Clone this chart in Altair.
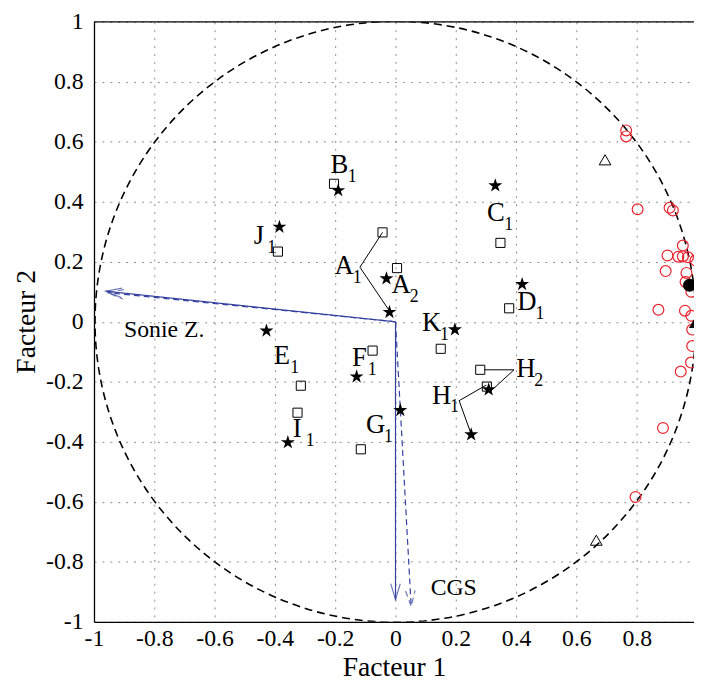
import altair as alt
import pandas as pd

# ---- data ----
ticks = [-1, -0.8, -0.6, -0.4, -0.2, 0, 0.2, 0.4, 0.6, 0.8, 1]

# filled stars
star_x = [-0.190, -0.385, -0.030, -0.020, -0.428, -0.129, 0.016, -0.357, 0.331, 0.197, 0.309, 0.251, 0.420]
star_y = [0.438, 0.316, 0.144, 0.032, -0.030, -0.183, -0.295, -0.402, 0.454, -0.026, -0.226, -0.376, 0.125]

# open squares
sq_x = [-0.204, -0.390, -0.043, 0.005, 0.348, 0.377, 0.150, 0.281, 0.303, -0.076, -0.314, -0.325, -0.115]
sq_y = [0.460, 0.234, 0.298, 0.179, 0.263, 0.045, -0.090, -0.160, -0.216, -0.096, -0.213, -0.303, -0.425]

# point labels (letter + subscript)
lab_letter = ["B", "J", "A", "A", "C", "D", "K", "H", "H", "E", "F", "G", "I"]
lab_sub = ["1", "1", "1", "2", "1", "1", "1", "2", "1", "1", "1", "1", "1"]
lab_x = [-0.186, -0.453, -0.170, 0.019, 0.333, 0.436, 0.120, 0.432, 0.153, -0.377, -0.120, -0.066, -0.326]
lab_y = [0.523, 0.287, 0.185, 0.122, 0.361, 0.066, -0.004, -0.158, -0.246, -0.114, -0.120, -0.345, -0.359]

# connector lines (square -> label -> star)
conn_id = ["A1", "A1", "A1", "H2", "H2", "H2", "H1", "H1", "H1"]
conn_x = [-0.043, -0.118, -0.024, 0.295, 0.393, 0.317, 0.301, 0.211, 0.249]
conn_y = [0.298, 0.182, 0.042, -0.160, -0.160, -0.230, -0.211, -0.263, -0.369]

# arrows from origin
arrow_id = ["S_solid", "S_dash", "C_solid", "C_dash"]
arrow_dash = ["solid", "dashed", "solid", "dashed"]
arrow_x = [-0.961, -0.955, 0.0, 0.052]
arrow_y = [0.102, 0.097, -0.926, -0.949]
arrow_angle = [96.0, 96.0, 0.0, 356.8]

# arrow labels
note_text = ["Sonie Z.", "CGS"]
note_x = [-0.767, 0.193]
note_y = [-0.026, -0.886]

# red circles
circ_x = [0.765, 0.765, 0.803, 0.909, 0.920, 0.953, 0.902, 0.938, 0.953, 0.970, 0.896, 0.965,
          0.962, 0.981, 0.872, 0.960, 0.981, 0.984, 0.984, 0.980, 0.946, 0.887, 0.796, 0.995]
circ_y = [0.638, 0.618, 0.375, 0.380, 0.371, 0.254, 0.221, 0.217, 0.218, 0.215, 0.169, 0.163,
          0.133, 0.100, 0.040, 0.037, 0.020, -0.026, -0.081, -0.136, -0.166, -0.354, -0.584, 0.205]

# open triangles
tri_x = [0.695, 0.666]
tri_y = [0.540, -0.728]

# filled black dot / triangle
dot_x = [0.975]
dot_y = [0.122]
ftri_x = [0.992]
ftri_y = [-0.004]

# ---- tables ----
stars = pd.DataFrame({"x": star_x, "y": star_y})
squares = pd.DataFrame({"x": sq_x, "y": sq_y})
labels = pd.DataFrame({"x": lab_x, "y": lab_y, "letter": lab_letter, "sub": lab_sub})
conns = pd.DataFrame({"x": conn_x, "y": conn_y, "id": conn_id, "o": list(range(len(conn_x)))})
rows = []
for i, a in enumerate(arrow_id):
    rows.append({"x": 0.0, "y": 0.0, "id": a, "dash": arrow_dash[i], "o": 0})
    rows.append({"x": arrow_x[i], "y": arrow_y[i], "id": a, "dash": arrow_dash[i], "o": 1})
arrow_lines = pd.DataFrame(rows)
arrow_heads = pd.DataFrame({"x": arrow_x, "y": arrow_y, "dash": arrow_dash, "angle": arrow_angle})
notes = pd.DataFrame({"x": note_x, "y": note_y, "t": note_text})
circles = pd.DataFrame({"x": circ_x, "y": circ_y})
tris = pd.DataFrame({"x": tri_x, "y": tri_y})
dots = pd.DataFrame({"x": dot_x, "y": dot_y})
ftris = pd.DataFrame({"x": ftri_x, "y": ftri_y})
origin = pd.DataFrame({"x": [0.0], "y": [0.0]})

W, H = 607, 607
FONT = "Liberation Serif"
MINUS = "replace(datum.label, '\u2212', '-')"

xs = alt.Scale(domain=[-1, 0.99], nice=False, zero=False)
ys = alt.Scale(domain=[-1, 1], nice=False, zero=False)

xaxis = alt.Axis(values=ticks, format="~g", grid=True, gridDash=[2, 6], gridColor="#8c8c8c", gridWidth=1,
                 domainColor="black", domainWidth=1.3, ticks=False, tickSize=0,
                 labelFont=FONT, labelFontSize=24, labelColor="black", labelPadding=5,
                 labelFlush=False, labelOverlap=False, labelExpr=MINUS,
                 titleFont=FONT, titleFontSize=28, titleFontWeight="normal", titleColor="black",
                 titleBaseline="middle", titleY=46)
yaxis = alt.Axis(values=ticks, format="~g", grid=True, gridDash=[2, 6], gridColor="#8c8c8c", gridWidth=1,
                 domainColor="black", domainWidth=1.3, ticks=False, tickSize=0,
                 labelFont=FONT, labelFontSize=24, labelColor="black", labelPadding=11,
                 labelFlush=False, labelOverlap=False, labelExpr=MINUS,
                 titleFont=FONT, titleFontSize=28, titleFontWeight="normal", titleColor="black",
                 titleAngle=270, titleAlign="center", titleBaseline="middle",
                 titleX=-68, titleY=303)

X = alt.X("x:Q", scale=xs, axis=xaxis, title="Facteur 1")
Y = alt.Y("y:Q", scale=ys, axis=yaxis, title="Facteur 2")

STAR = ("M0,-1L0.2245,-0.309L0.951,-0.309L0.363,0.118L0.588,0.809L0,0.382"
        "L-0.588,0.809L-0.363,0.118L-0.951,-0.309L-0.2245,-0.309Z")
HEAD = "M-0.3,-1L0,0L0.3,-1"
BLUE = "#3340a0"

circle_ref = alt.Chart(origin).mark_arc(
    radius=304, theta=0, theta2=6.2832, stroke="black", strokeWidth=1.6,
    strokeDash=[8, 5], fill="transparent", clip=True
).encode(x=X, y=Y)

top_line = alt.Chart(origin).mark_rule(color="black", strokeWidth=1.3).encode(
    x=alt.value(0), x2=alt.value(W), y=alt.value(0))

conn_layer = alt.Chart(conns).mark_line(color="black", strokeWidth=1).encode(
    x=X, y=Y, detail="id:N", order="o:Q")

arrow_layer = alt.Chart(arrow_lines).mark_line(color=BLUE, strokeWidth=1.2).encode(
    x=X, y=Y, detail="id:N", order="o:Q",
    strokeDash=alt.StrokeDash("dash:N", scale=alt.Scale(domain=["solid", "dashed"], range=[[1, 0], [6, 4]]), legend=None))

head_layer = alt.Chart(arrow_heads).mark_point(shape=HEAD, size=1024, filled=False, color=BLUE, strokeWidth=1.2).encode(
    x=X, y=Y, angle=alt.Angle("angle:Q", scale=None),
    strokeDash=alt.StrokeDash("dash:N", scale=alt.Scale(domain=["solid", "dashed"], range=[[1, 0], [4, 3]]), legend=None))

sq_layer = alt.Chart(squares).mark_point(shape="square", size=85, filled=False, color="black", strokeWidth=1, opacity=1).encode(x=X, y=Y)
star_layer = alt.Chart(stars).mark_point(shape=STAR, size=220, filled=True, color="black", opacity=1).encode(x=X, y=Y)
circ_layer = alt.Chart(circles).mark_point(shape="circle", size=120, filled=False, color="#e8232b", strokeWidth=1.2, opacity=1, clip=True).encode(x=X, y=Y)
tri_layer = alt.Chart(tris).mark_point(shape="triangle-up", size=140, filled=False, color="black", strokeWidth=1, opacity=1).encode(x=X, y=Y)
dot_layer = alt.Chart(dots).mark_point(shape="circle", size=170, filled=True, color="black", opacity=1, clip=True).encode(x=X, y=Y)
ftri_layer = alt.Chart(ftris).mark_point(shape="triangle-up", size=130, filled=True, color="black", opacity=1, clip=True).encode(x=X, y=Y)

letter_layer = alt.Chart(labels).mark_text(font=FONT, fontSize=27, color="black", align="center", baseline="middle").encode(
    x=X, y=Y, text="letter:N")
sub_layer = alt.Chart(labels).mark_text(font=FONT, fontSize=18, color="black", align="center", baseline="middle", dx=13, dy=12).encode(
    x=X, y=Y, text="sub:N")
note_layer = alt.Chart(notes).mark_text(font=FONT, fontSize=24, color="black", align="center", baseline="middle").encode(
    x=X, y=Y, text="t:N")

chart = alt.layer(
    circle_ref, top_line, conn_layer, arrow_layer, head_layer,
    sq_layer, star_layer, circ_layer, tri_layer, dot_layer, ftri_layer,
    letter_layer, sub_layer, note_layer
).properties(
    width=W, height=H,
    autosize=alt.AutoSizeParams(type="none"),
    padding={"left": 87, "top": 10, "right": 0, "bottom": 62},
    background="white"
).configure_view(stroke=None).configure_axis(labelFont=FONT, titleFont=FONT)

chart.save("out.html", embed_options={"renderer": "svg", "actions": False})
